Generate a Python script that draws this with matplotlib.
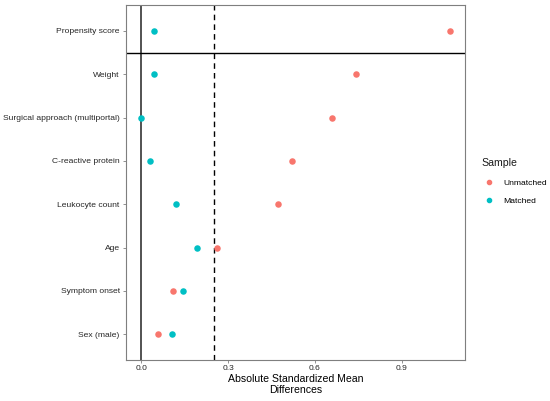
import numpy as np
import matplotlib.pyplot as plt
from matplotlib.lines import Line2D

# covariates from bottom to top
covariates = ['Sex (male)', 'Symptom onset', 'Age', 'Leukocyte count',
              'C-reactive protein', 'Surgical approach (multiportal)', 'Weight',
              'Propensity score']
unmatched = [0.056, 0.108, 0.263, 0.472, 0.522, 0.660, 0.743, 1.067]
matched = [0.107, 0.143, 0.192, 0.120, 0.029, 0.000, 0.044, 0.042]
x_ticks = [0.0, 0.3, 0.6, 0.9]

red = '#F8766D'
teal = '#00BFC4'


def main():
	plt.rcParams['font.family'] = ['Liberation Sans', 'DejaVu Sans']
	fig = plt.figure(figsize=(5.5, 4.01), dpi=100)
	ax = fig.add_axes([0.229, 0.102, 0.617, 0.8855])

	y = np.arange(1, len(covariates) + 1)
	ax.axvline(0, color='#444444', lw=1.3, zorder=1)
	ax.axvline(0.25, color='black', lw=1.0, ls=(0, (4, 3)), zorder=1)
	ax.axhline(len(covariates) - 0.5, color='black', lw=1.0, zorder=1)

	ax.scatter(unmatched, y, s=22, color=red, zorder=3, linewidths=0)
	ax.scatter(matched, y, s=22, color=teal, zorder=3, linewidths=0)

	span = max(unmatched) - min(matched)
	ax.set_xlim(min(matched) - 0.05 * span, max(unmatched) + 0.05 * span)
	ax.set_ylim(0.4, len(covariates) + 0.6)
	ax.set_xticks(x_ticks)
	ax.set_xticklabels(['%.1f' % v for v in x_ticks])
	ax.set_yticks(y)
	ax.set_yticklabels(covariates)
	ax.tick_params(axis='both', labelsize=6.1, colors='#7f7f7f', length=2.5, width=0.6, pad=2)
	ax.tick_params(axis='x', pad=1.2)
	for lab in ax.get_xticklabels() + ax.get_yticklabels():
		lab.set_color('#262626')
	for sp in ax.spines.values():
		sp.set_color('#7f7f7f')
		sp.set_linewidth(0.8)
	ax.set_xlabel('Absolute Standardized Mean\nDifferences', fontsize=7.6, labelpad=1.5, linespacing=1.05)

	# legend
	fig.text(0.876, 0.593, 'Sample', fontsize=7.6, va='center', ha='left', color='#1a1a1a')
	handles = [Line2D([], [], ls='', marker='o', ms=3, color=red, label='Unmatched'),
	           Line2D([], [], ls='', marker='o', ms=3, color=teal, label='Matched')]
	fig.legend(handles=handles, loc='upper left', bbox_to_anchor=(0.877, 0.558),
	           frameon=False, fontsize=6.1, handletextpad=1.1, borderpad=0.2,
	           handlelength=1.2, labelspacing=1.2, borderaxespad=0)

	fig.savefig('out.png', dpi=100)


if __name__ == '__main__':
	main()
